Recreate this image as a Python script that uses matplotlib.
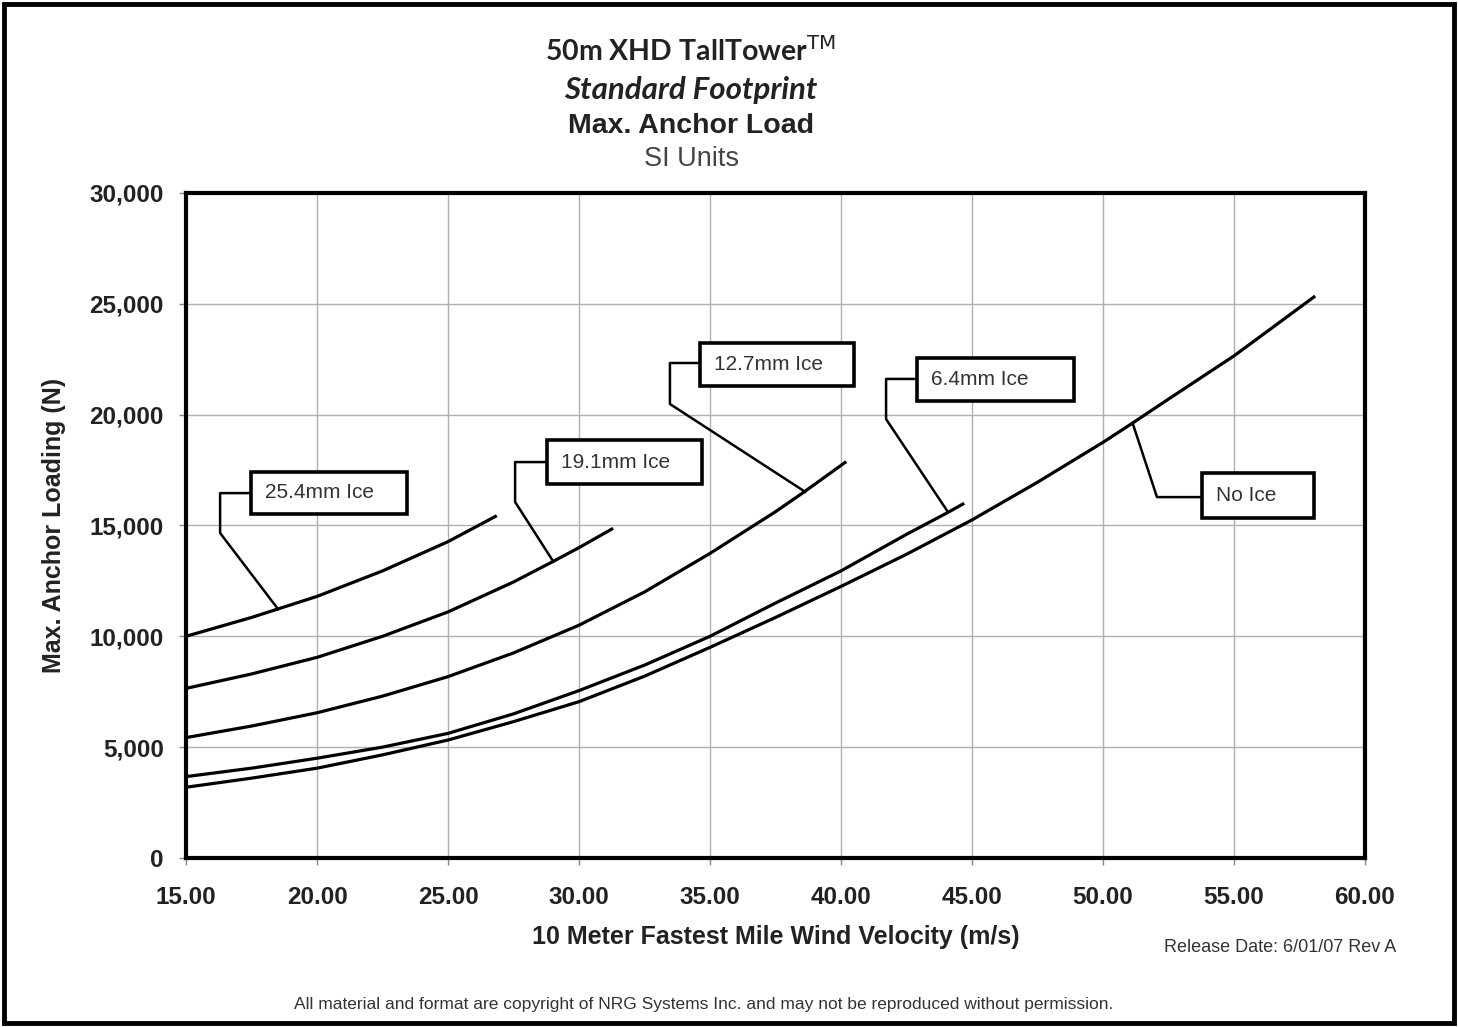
import numpy as np
import matplotlib
matplotlib.use('Agg')
import matplotlib.pyplot as plt
from matplotlib.patches import Rectangle
from matplotlib.ticker import FuncFormatter, MultipleLocator

# 数据 (风速 m/s, 最大锚固荷载 N)
v_25_4 = [15.0, 17.5, 18.5, 20.0, 22.5, 25.0, 26.86]
f_25_4 = [10000, 10850, 11230, 11800, 12950, 14270, 15440]

v_19_1 = [15.0, 17.5, 20.0, 22.5, 25.0, 27.5, 29.0, 30.0, 31.3]
f_19_1 = [7650, 8300, 9050, 10000, 11100, 12450, 13370, 14000, 14870]

v_12_7 = [15.0, 17.5, 20.0, 22.5, 25.0, 27.5, 30.0, 32.5, 35.0, 37.5, 38.6, 40.2]
f_12_7 = [5430, 5950, 6550, 7300, 8180, 9250, 10500, 12000, 13740, 15620, 16520, 17880]

v_6_4 = [15.0, 17.5, 20.0, 22.5, 25.0, 27.5, 30.0, 32.5, 35.0, 37.5, 40.0, 42.5, 44.1, 44.7]
f_6_4 = [3670, 4050, 4500, 5000, 5620, 6500, 7550, 8700, 10000, 11500, 12950, 14600, 15600, 16000]

v_no = [15.0, 17.5, 20.0, 22.5, 25.0, 27.5, 30.0, 32.5, 35.0, 37.5, 40.0, 42.5, 45.0, 47.5, 50.0, 51.13, 52.5, 55.0, 58.1]
f_no = [3190, 3600, 4050, 4650, 5320, 6150, 7050, 8200, 9500, 10850, 12250, 13700, 15250, 16950, 18750, 19620, 20700, 22650, 25350]

labels = ['25.4mm Ice', '19.1mm Ice', '12.7mm Ice', '6.4mm Ice', 'No Ice']
series = [(v_25_4, f_25_4), (v_19_1, f_19_1), (v_12_7, f_12_7), (v_6_4, f_6_4), (v_no, f_no)]

# 标注框位置 (x0, x1, y0, y1) 和引线
boxes = [(17.48, 23.44, 15520, 17410),
         (28.78, 34.69, 16870, 18850),
         (34.62, 40.50, 21290, 23230),
         (42.90, 48.89, 20610, 22550),
         (53.78, 58.05, 15340, 17370)]
leaders = [[(17.48, 16460), (16.30, 16460), (16.30, 14660), (18.51, 11230)],
           [(28.78, 17860), (27.56, 17860), (27.56, 16060), (29.02, 13370)],
           [(34.62, 22330), (33.47, 22330), (33.47, 20480), (38.63, 16520)],
           [(42.90, 21610), (41.72, 21610), (41.72, 19800), (44.08, 15610)],
           [(51.13, 19620), (52.06, 16280), (53.78, 16280)]]

plt.rcParams['font.family'] = ['Liberation Sans', 'DejaVu Sans']

fig = plt.figure(figsize=(14.58, 10.27), dpi=100)
ax = fig.add_axes([0.1276, 0.1646, 0.8086, 0.6475])

for (v, f) in series:
    ax.plot(v, f, color='black', lw=2.3, zorder=3, solid_capstyle='butt',
            solid_joinstyle='round')

for pts in leaders:
    xs = [p[0] for p in pts]
    ys = [p[1] for p in pts]
    ax.plot(xs, ys, color='black', lw=1.8, zorder=4)

for (x0, x1, y0, y1), lab in zip(boxes, labels):
    ax.add_patch(Rectangle((x0, y0), x1 - x0, y1 - y0, facecolor='white',
                           edgecolor='black', lw=2.6, zorder=5))
    ax.annotate(lab, xy=(x0, (y0 + y1) / 2), xytext=(10, 0), textcoords='offset points',
                va='center', ha='left', fontsize=15, color='#333333', zorder=6)

ax.set_xlim(15, 60)
ax.set_ylim(0, 30000)
ax.xaxis.set_major_locator(MultipleLocator(5))
ax.yaxis.set_major_locator(MultipleLocator(5000))
ax.xaxis.set_major_formatter(FuncFormatter(lambda x, p: '%.2f' % x))
ax.yaxis.set_major_formatter(FuncFormatter(lambda y, p: '{:,.0f}'.format(y)))
ax.grid(True, color='#b0b0b0', lw=1.0, zorder=0)
ax.tick_params(axis='both', direction='out', length=5, width=1, color='#888888',
               labelsize=17.5, labelcolor='#222222')
ax.tick_params(axis='x', pad=15)
ax.tick_params(axis='y', pad=11)
for lab in ax.get_xticklabels() + ax.get_yticklabels():
    lab.set_fontweight('bold')
for s in ax.spines.values():
    s.set_linewidth(3)
    s.set_color('black')

ax.set_xlabel('10 Meter Fastest Mile Wind Velocity (m/s)', fontsize=18, fontweight='bold',
              color='#222222', labelpad=12)
ax.set_ylabel('Max. Anchor Loading (N)', fontsize=18, fontweight='bold',
              color='#222222', labelpad=17)

# 标题
cx = 691 / 1458
fig.text(cx, 1 - 51 / 1027, r'50m XHD TallTower$^{\mathrm{TM}}$', ha='center', va='center',
         fontsize=20.5, fontweight='bold', family='Lato', color='#222222')
fig.text(cx, 1 - 90 / 1027, 'Standard Footprint', ha='center', va='center',
         fontsize=22.5, fontweight='bold', style='italic', family='Lato', color='#222222')
fig.text(cx, 1 - 126 / 1027, 'Max. Anchor Load', ha='center', va='center',
         fontsize=20.5, fontweight='bold', color='#222222')
fig.text(cx, 1 - 159 / 1027, 'SI Units', ha='center', va='center',
         fontsize=19.5, color='#444444')

fig.text(1280 / 1458, 1 - 947 / 1027, 'Release Date: 6/01/07 Rev A', ha='center', va='center',
         fontsize=13, color='#333333')
fig.text(704 / 1458, 1 - 1005 / 1027,
         'All material and format are copyright of NRG Systems Inc. and may not be reproduced without permission.',
         ha='center', va='center', fontsize=12.5, color='#333333')

# 外框
fig.add_artist(Rectangle((0.003, 0.004), 0.994, 0.992, transform=fig.transFigure,
                         fill=False, edgecolor='black', lw=3.5))

fig.savefig('out.png', dpi=100)
